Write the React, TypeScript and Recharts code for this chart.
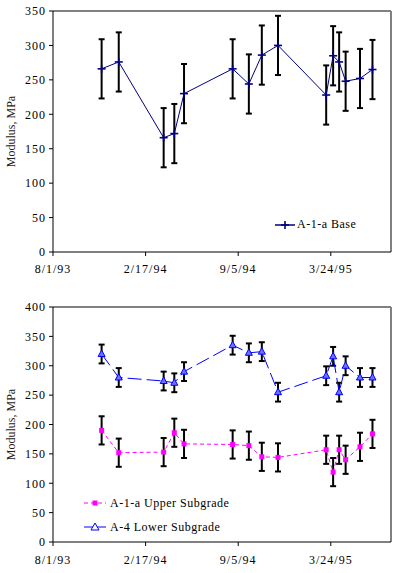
import React from "react";
import { ComposedChart, Line, XAxis, YAxis, ErrorBar, ReferenceLine, Legend } from "recharts";

// survey dates (m/d/yy)
const surveyDates = [
  "11/14/93", "12/21/93", "3/28/94", "4/20/94", "5/11/94", "8/24/94", "9/28/94", "10/26/94",
  "11/30/94", "3/14/95", "3/29/95", "4/11/95", "4/25/95", "5/26/95", "6/22/95",
];
const dateTicks = ["8/1/93", "2/17/94", "9/5/94", "3/24/95"];
const dateAxisEnd = "8/1/95";

const baseModulus = [266, 276, 166, 172, 230, 266, 244, 286, 300, 228, 285, 276, 248, 252, 265];
const baseError = [43, 43, 43, 43, 43, 43, 43, 43, 43, 43, 43, 43, 43, 43, 43];

const upperModulus = [190, 152, 153, 186, 167, 166, 164, 145, 144, 157, 119, 157, 140, 162, 184];
const upperError = [24, 24, 24, 24, 24, 24, 24, 24, 24, 24, 24, 24, 24, 24, 24];

const lowerModulus = [320, 280, 274, 271, 290, 335, 322, 324, 255, 283, 316, 255, 300, 280, 280];
const lowerError = [16, 16, 16, 16, 16, 16, 16, 16, 16, 16, 16, 16, 16, 16, 16];

const baseTicks = [0, 50, 100, 150, 200, 250, 300, 350];
const subgradeTicks = [0, 50, 100, 150, 200, 250, 300, 350, 400];

const FONT = "'Liberation Serif', 'Times New Roman', serif";

const toDays = (d: string) => {
  const [m, day, y] = d.split("/").map(Number);
  const [m0, d0, y0] = dateTicks[0].split("/").map(Number);
  return Math.round((Date.UTC(1900 + y, m - 1, day) - Date.UTC(1900 + y0, m0 - 1, d0)) / 86400000);
};

const dayLabel: Record<number, string> = {};
dateTicks.forEach((t) => (dayLabel[toDays(t)] = t));
const xTicks = dateTicks.map(toDays);
const xMax = toDays(dateAxisEnd);

const baseRows = surveyDates.map((d, i) => ({ day: toDays(d), modulus: baseModulus[i], err: baseError[i] }));
const subgradeRows = surveyDates.map((d, i) => ({
  day: toDays(d),
  upper: upperModulus[i],
  upperErr: upperError[i],
  lower: lowerModulus[i],
  lowerErr: lowerError[i],
}));

const tickStyle = { fill: "#000", fontSize: 12, fontFamily: FONT, letterSpacing: 1 };

const Cross = ({ cx, cy, color }: any) => (
  <g stroke={color} strokeWidth={1.6}>
    <line x1={cx - 4} y1={cy} x2={cx + 4} y2={cy} />
    <line x1={cx} y1={cy - 4} x2={cx} y2={cy + 4} />
  </g>
);

const Tri = ({ cx, cy }: any) => (
  <path d={`M${cx},${cy - 4} L${cx + 3.5},${cy + 2.5} L${cx - 3.5},${cy + 2.5} Z`} fill="#6f6fff" stroke="#0000ff" strokeWidth={1} />
);

const Square = ({ cx, cy }: any) => <rect x={cx - 2.5} y={cy - 2.5} width={5} height={5} fill="#ff00ff" />;

const yLabel = (props: any) => {
  const vb = props.viewBox;
  const cy = vb.y + vb.height / 2;
  return (
    <text x={11} y={cy} transform={`rotate(-90, 11, ${cy})`} textAnchor="middle" dominantBaseline="central"
      fontSize={12} fontFamily={FONT} fill="#222">
      Modulus, MPa
    </text>
  );
};

const legendText = { fontSize: 12, fontFamily: FONT, letterSpacing: 0.5, color: "#000" };

const BaseLegend = () => (
  <div style={{ display: "flex", alignItems: "center" }}>
    <svg width={22} height={12}>
      <line x1={1} y1={6} x2={21} y2={6} stroke="#000080" strokeWidth={1.5} />
      <Cross cx={11} cy={6} color="#000080" />
    </svg>
    <span style={{ ...legendText, marginLeft: 1 }}>A-1-a Base</span>
  </div>
);

const SubgradeLegend = () => (
  <div>
    <div style={{ display: "flex", alignItems: "center", height: 24 }}>
      <svg width={22} height={12}>
        <line x1={0} y1={6} x2={22} y2={6} stroke="#ff00ff" strokeDasharray="4 3" />
        <Square cx={11} cy={6} />
      </svg>
      <span style={{ ...legendText, marginLeft: 4 }}>A-1-a Upper Subgrade</span>
    </div>
    <div style={{ display: "flex", alignItems: "center", height: 24 }}>
      <svg width={22} height={12}>
        <line x1={0} y1={6} x2={22} y2={6} stroke="#0000ff" />
        <path d="M11,2 L15,9 L7,9 Z" fill="#fff" stroke="#0000ff" />
      </svg>
      <span style={{ ...legendText, marginLeft: 4 }}>A-4 Lower Subgrade</span>
    </div>
  </div>
);

const xAxisProps = {
  dataKey: "day",
  type: "number" as const,
  domain: [0, xMax],
  ticks: xTicks,
  tickFormatter: (v: number) => dayLabel[v] ?? "",
  tick: tickStyle,
  tickSize: 4,
  axisLine: { stroke: "#000" },
  tickLine: { stroke: "#000" },
};

export default function App() {
  return (
    <div style={{ position: "absolute", top: 0, left: 0, width: 396, height: 573, background: "#fff" }}>
      <ComposedChart width={396} height={290} data={baseRows} margin={{ top: 11, right: 5, bottom: 8, left: 0 }}>
        <XAxis {...xAxisProps} height={30} tickMargin={8} />
        <YAxis
          type="number"
          domain={[0, 350]}
          ticks={baseTicks}
          width={53}
          tick={tickStyle}
          tickSize={4}
          tickMargin={3}
          axisLine={{ stroke: "#000" }}
          tickLine={{ stroke: "#000" }}
          label={{ content: yLabel }}
        />
        <ReferenceLine y={350} stroke="#808080" strokeWidth={2} />
        <ReferenceLine x={xMax} stroke="#808080" strokeWidth={2} />
        <Line
          dataKey="modulus"
          name="A-1-a Base"
          type="linear"
          stroke="#000080"
          strokeWidth={1}
          dot={(p: any) => <Cross key={p.index} cx={p.cx} cy={p.cy} color="#000080" />}
          activeDot={false}
          isAnimationActive={false}
        >
          <ErrorBar dataKey="err" direction="y" width={3} strokeWidth={2} stroke="#000" isAnimationActive={false} />
        </Line>
        <Legend
          layout="horizontal"
          verticalAlign="middle"
          align="center"
          content={() => <BaseLegend />}
          wrapperStyle={{ left: 274, top: 217, width: "auto", height: "auto" }}
        />
      </ComposedChart>
      <ComposedChart width={396} height={283} data={subgradeRows} margin={{ top: 17, right: 5, bottom: 6, left: 0 }}>
        <XAxis {...xAxisProps} height={25} tickMargin={9} />
        <YAxis
          type="number"
          domain={[0, 400]}
          ticks={subgradeTicks}
          width={53}
          tick={tickStyle}
          tickSize={4}
          tickMargin={3}
          axisLine={{ stroke: "#000" }}
          tickLine={{ stroke: "#000" }}
          label={{ content: yLabel }}
        />
        <ReferenceLine y={400} stroke="#808080" strokeWidth={2} />
        <ReferenceLine x={xMax} stroke="#808080" strokeWidth={2} />
        <Line
          dataKey="upper"
          name="A-1-a Upper Subgrade"
          type="linear"
          stroke="#ff00ff"
          strokeWidth={1}
          strokeDasharray="4 3"
          dot={(p: any) => <Square key={p.index} cx={p.cx} cy={p.cy} />}
          activeDot={false}
          isAnimationActive={false}
        >
          <ErrorBar dataKey="upperErr" direction="y" width={3} strokeWidth={2} stroke="#000" isAnimationActive={false} />
        </Line>
        <Line
          dataKey="lower"
          name="A-4 Lower Subgrade"
          type="linear"
          stroke="#0000ff"
          strokeWidth={1}
          strokeDasharray="14 5"
          dot={(p: any) => <Tri key={p.index} cx={p.cx} cy={p.cy} />}
          activeDot={false}
          isAnimationActive={false}
        >
          <ErrorBar dataKey="lowerErr" direction="y" width={3} strokeWidth={2} stroke="#000" isAnimationActive={false} />
        </Line>
        <Legend
          layout="horizontal"
          verticalAlign="middle"
          align="center"
          content={() => <SubgradeLegend />}
          wrapperStyle={{ left: 84, top: 201, width: "auto", height: "auto" }}
        />
      </ComposedChart>
    </div>
  );
}
